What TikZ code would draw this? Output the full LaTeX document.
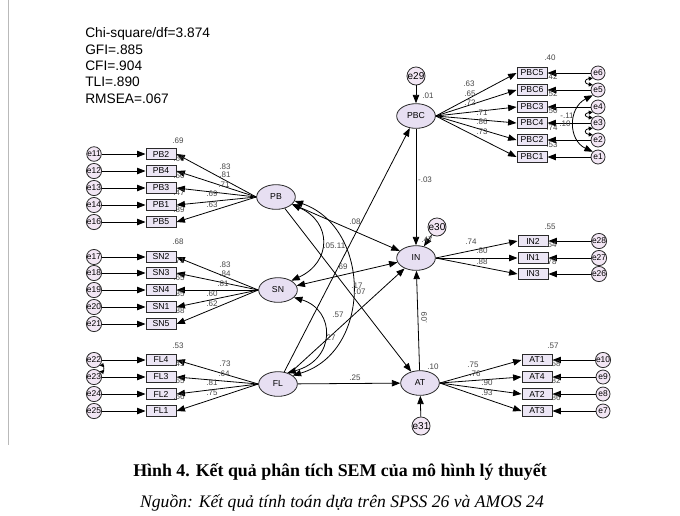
\documentclass[tikz,border=0pt]{standalone}
\usepackage{fontspec}
\setmainfont{Liberation Sans}
\newfontfamily\capserif{Liberation Serif}
\usetikzlibrary{shapes.geometric,arrows.meta}
\definecolor{boxfill}{HTML}{ECE6F5}
\definecolor{latfill}{HTML}{E7DFF2}
\definecolor{errfill}{HTML}{F2E6F4}
\definecolor{edgec}{HTML}{2A2A2A}
\definecolor{numc}{HTML}{474747}
\tikzset{
  obs/.style={draw=edgec, fill=boxfill, minimum width=22.5pt, minimum height=8.6pt, inner sep=0pt, line width=0.75pt, font=\fontsize{6.5}{7}\selectfont},
  lat/.style={ellipse, draw=edgec, fill=latfill, minimum width=29pt, minimum height=18.5pt, inner sep=0pt, line width=0.6pt, font=\fontsize{6.5}{7}\selectfont},
  err/.style={circle, draw=edgec, fill=errfill, minimum size=10.5pt, inner sep=0pt, line width=0.6pt, font=\fontsize{6.3}{7}\selectfont},
  errbig/.style={err, minimum size=13pt, font=\fontsize{7.5}{8}\selectfont},
  arr/.style={-{Triangle[length=6.3pt,width=4.8pt]}, line width=0.6pt, draw=black},
  darr/.style={{Triangle[length=6.3pt,width=4.8pt]}-{Triangle[length=6.3pt,width=4.8pt]}, line width=0.6pt, draw=black},
  sarr/.style={{Triangle[length=3pt,width=3pt]}-{Triangle[length=3pt,width=3pt]}, line width=0.6pt, draw=black},
  num/.style={font=\fontsize{6}{7}\selectfont, text=numc, inner sep=0pt},
  fit/.style={font=\fontsize{10.3}{12}\selectfont, anchor=west, inner sep=0pt}
}
\begin{document}
\begin{tikzpicture}[x=0.75pt,y=-0.75pt]
\useasboundingbox (0,0) rectangle (680,515);
\fill[white] (0,0) rectangle (680,515);
\draw[gray!55, line width=0.6pt] (8,0) -- (8,445);

% fit indices
\node[fit] (f1) at (85,34) {Chi-square/df=3.874};
\node[fit] (f2) at (85,50) {GFI=.885};
\node[fit] (f3) at (85,66) {CFI=.904};
\node[fit] (f4) at (85,82) {TLI=.890};
\node[fit] (f5) at (85,99) {RMSEA=.067};

% latent variables
\node[lat] (PBC) at (416,116) {PBC};
\node[lat] (PB) at (276,197) {PB};
\node[lat] (SN) at (278,290) {SN};
\node[lat] (FL) at (278,384) {FL};
\node[lat] (IN) at (416,258) {IN};
\node[lat] (AT) at (420,383) {AT};

\node[errbig] (e29) at (416,76) {e29};
\node[errbig] (e30) at (437,227) {e30};
\node[errbig] (e31) at (421,426) {e31};

% PBC indicators
\foreach \n/\y/\e in {PBC5/73/e6, PBC6/90/e5, PBC3/107/e4, PBC4/123/e3, PBC2/140/e2, PBC1/157/e1}{
  \node[obs] (\n) at (532,\y) {\n};
  \node[err] (\e) at (598,\y) {\e};
  \draw[arr] (\e) -- (\n);
  \draw[arr] (PBC.east) -- (\n.west);
}
% PB indicators
\foreach \n/\y/\e in {PB2/154/e11, PB4/171/e12, PB3/188/e13, PB1/205/e14, PB5/222/e16}{
  \node[obs] (\n) at (161,\y) {\n};
  \node[err] (\e) at (94,\y) {\e};
  \draw[arr] (\e) -- (\n);
  \draw[arr] (PB.west) -- (\n.east);
}
% SN indicators
\foreach \n/\y/\e in {SN2/257/e17, SN3/273/e18, SN4/290/e19, SN1/307/e20, SN5/324/e21}{
  \node[obs] (\n) at (161,\y) {\n};
  \node[err] (\e) at (94,\y) {\e};
  \draw[arr] (\e) -- (\n);
  \draw[arr] (SN.west) -- (\n.east);
}
% FL indicators
\foreach \n/\y/\e in {FL4/360/e22, FL3/377/e23, FL2/394/e24, FL1/411/e25}{
  \node[obs] (\n) at (161,\y) {\n};
  \node[err] (\e) at (94,\y) {\e};
  \draw[arr] (\e) -- (\n);
  \draw[arr] (FL.west) -- (\n.east);
}
% IN indicators
\foreach \n/\y/\e in {IN2/241/e28, IN1/258/e27, IN3/274/e26}{
  \node[obs] (\n) at (533,\y) {\n};
  \node[err] (\e) at (599,\y) {\e};
  \draw[arr] (\e) -- (\n);
  \draw[arr] (IN.east) -- (\n.west);
}
% AT indicators
\foreach \n/\y/\e in {AT1/360/e10, AT4/377/e9, AT2/394/e8, AT3/411/e7}{
  \node[obs] (\n) at (537,\y) {\n};
  \node[err] (\e) at (603,\y) {\e};
  \draw[arr] (\e) -- (\n);
  \draw[arr] (AT.east) -- (\n.west);
}

% error covariances
\draw[sarr] (e6.south west) .. controls (584,79) and (584,84) .. (e5.north west);
\draw[sarr] (e4.south west) .. controls (584,113) and (584,117) .. (e3.north west);
\draw[sarr] (e3.south west) .. controls (584,129) and (584,134) .. (e2.north west);
\draw[darr] (e5.south west) .. controls (568,108) and (568,140) .. (e1.north west);
\draw[sarr] (e22.south east) .. controls (104,365) and (104,372) .. (e23.north east);

% structural paths
\draw[arr] (e29) -- (PBC);
\draw[arr] (e30) -- (IN);
\draw[arr] (e31) -- (AT);
\draw[arr] (PBC) -- (IN);
\draw[arr] (AT) -- (IN);
\draw[arr] (FL) -- (AT);
\draw[arr] (FL) -- (PBC);
\draw[arr] (FL) -- (IN);
\draw[arr] (PB) -- (AT);
\draw[darr] (PB) -- (IN);
\draw[darr] (SN) -- (IN);

% latent covariances
\draw[darr] (PB.-25) .. controls (332,222) and (332,262) .. (SN.35);
\draw[darr] (PB.-12) .. controls (372,228) and (372,352) .. (FL.30);
\draw[darr] (SN.-25) .. controls (336,310) and (336,360) .. (FL.50);

% labels: structural
\node[num] (s1) at (425,180) {-.03};
\node[num] (s2) at (428,96) {.01};
\node[num] (s3) at (355,222) {.08};
\node[num] (s4) at (329,246) {.05};
\node[num] (s5) at (340,246) {.11};
\node[num] (s6) at (342,267) {.69};
\node[num] (s7) at (357,286) {.17};
\node[num] (s8) at (360,292) {.07};
\node[num] (s9) at (338,315) {.57};
\node[num] (s10) at (330,338) {.27};
\node[num] (s11) at (355,378) {.25};
\node[num, rotate=90] (s12) at (424,318) {.09};
\node[num] (s13) at (433,367) {.10};
\node[num] (s14) at (427,240) {.47};
\node[num] (s15) at (567,116) {-.11};
\node[num] (s16) at (565,124) {.10};

% labels: loadings
\foreach \t/\x/\y [count=\i] in {.63/469/84, .65/470/94, .72/470/103, .71/482/113, .86/482/122, .73/482/132,
  .83/225/167, .81/225/175, .71/224/185, .69/212/194, .63/212/205,
  .83/225/265, .84/225/274, .81/223/284, .60/212/294, .62/212/304,
  .73/225/364, .64/224/374, .81/212/383, .75/212/393,
  .74/471/242, .80/482/251, .88/482/262,
  .75/473/365, .76/475/374, .90/487/383, .93/487/393}{
  \node[num] (ld\i) at (\x,\y) {\t};
}
% labels: squared multiple correlations
\foreach \t/\x/\y [count=\i] in {.40/550/58, .42/552/77, .52/552/94, .50/552/111, .74/552/128, .53/552/145,
  .69/178/141, .66/179/159, .50/179/176, .47/179/193, .39/179/210,
  .68/178/242, .71/179/261, .65/179/278, .35/179/294, .38/179/311,
  .53/178/346, .41/179/364, .65/179/381, .56/179/397,
  .55/550/227, .64/551/245, .78/551/262,
  .57/553/346, .58/555/364, .82/555/381, .86/555/398}{
  \node[num] (r\i) at (\x,\y) {\t};
}

% caption
\node[font=\capserif\bfseries\fontsize{13.4}{15}\selectfont, inner sep=0pt] (cap1) at (340,472) {Hình 4. Kết quả phân tích SEM của mô hình lý thuyết};
\node[font=\capserif\itshape\fontsize{13.2}{15}\selectfont, inner sep=0pt] (cap2) at (342,503) {Nguồn: Kết quả tính toán dựa trên SPSS 26 và AMOS 24};
\end{tikzpicture}
\end{document}
